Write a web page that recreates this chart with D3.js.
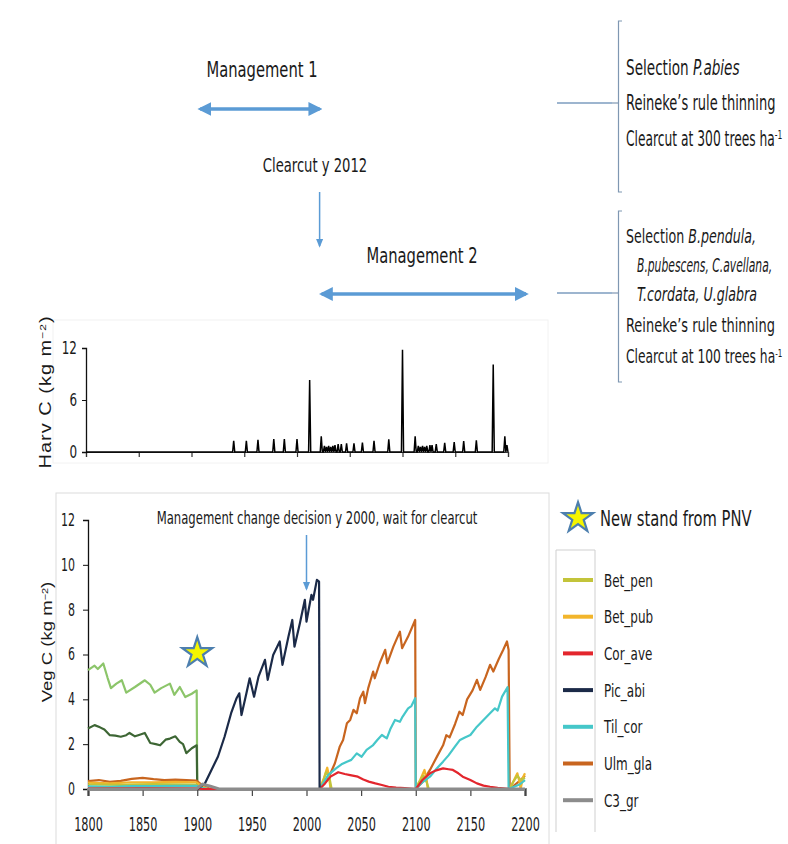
<!DOCTYPE html>
<html>
<head>
<meta charset="utf-8">
<script src="https://cdn.jsdelivr.net/npm/d3@7"></script>
<style>
  body { margin: 0; background: #fff; }
  text { font-family: "DejaVu Sans Condensed", "Liberation Sans Narrow", sans-serif; fill: #1a1a1a; }
  .plain { font-family: "Liberation Sans", Arial, sans-serif; }
</style>
</head>
<body>
<div id="vis"></div>
<script>
// valores (anio, kg C m-2)
const pnvLight = [[1800,5.3],[1806,5.5],[1809,5.35],[1814,5.6],[1818,4.95],[1821,4.5],[1826,4.7],[1831,4.85],[1835,4.3],[1843,4.55],[1852,4.85],[1857,4.65],[1861,4.3],[1867,4.5],[1875,4.7],[1879,4.2],[1884,4.55],[1889,4.1],[1895,4.25],[1899.5,4.4],[1900,0]];
const pnvDark = [[1800,2.7],[1806,2.85],[1811,2.75],[1815,2.65],[1820,2.4],[1825,2.38],[1830,2.33],[1835,2.4],[1838,2.5],[1843,2.35],[1846,2.4],[1852,2.5],[1857,2.05],[1862,2.0],[1866,1.95],[1871,2.2],[1875,2.25],[1880,2.35],[1884,2.1],[1887,2.0],[1890,1.6],[1895,1.82],[1899.5,1.95],[1900,0]];
const betPen = [[1800,0.2],[1830,0.18],[1860,0.22],[1899,0.2],[1903,0.05],[1908,0],[2012,0],[2015,0.3],[2018,0.75],[2021,0.5],[2023,0],[2100,0],[2103,0.3],[2107,0.6],[2110,0.3],[2112,0],[2186,0],[2189,0.3],[2193,0.6],[2196,0.4],[2200,0.5]];
const betPub = [[1800,0.28],[1820,0.25],[1840,0.3],[1860,0.3],[1880,0.32],[1899,0.3],[1905,0.1],[1910,0],[2012,0],[2016,0.5],[2019,0.95],[2020.5,0.6],[2022,0],[2100,0],[2104,0.4],[2108,0.85],[2110,0.4],[2111,0],[2186,0],[2190,0.4],[2193,0.7],[2195,0.3],[2196,0],[2198,0.5],[2200,0.7]];
const corAve = [[1800,0.03],[1850,0.04],[1899,0.03],[1905,0],[2012,0],[2017,0.25],[2022,0.55],[2029,0.75],[2035,0.67],[2040,0.62],[2047,0.55],[2052,0.42],[2057,0.33],[2063,0.25],[2069,0.18],[2075,0.1],[2082,0.06],[2090,0.04],[2100,0],[2106,0.4],[2113,0.7],[2118,0.82],[2125,0.92],[2130,0.88],[2134,0.85],[2139,0.7],[2143,0.55],[2150,0.4],[2156,0.25],[2162,0.15],[2168,0.1],[2175,0.05],[2180,0.03],[2186,0],[2200,0]];
const picAbi = [[1900,0],[1907,0.25],[1913,0.85],[1919,1.45],[1925,2.33],[1931,3.38],[1936,4.05],[1938.5,4.27],[1940.5,3.3],[1945,4.27],[1948,4.94],[1952,4.12],[1956,5.0],[1962,5.76],[1964.5,4.87],[1969.5,5.98],[1975.5,6.58],[1978,5.54],[1983.5,6.8],[1987,7.54],[1989,6.35],[1994,7.4],[1998.5,8.44],[2000,7.47],[2004.5,8.66],[2006,8.44],[2009.5,9.33],[2011.5,9.25],[2012,0]];
const tilCor = [[1800,0.12],[1820,0.1],[1840,0.13],[1860,0.13],[1880,0.14],[1899,0.14],[1905,0.04],[1910,0],[2012,0],[2020,0.63],[2027,0.92],[2032,1.1],[2037,1.22],[2041,1.3],[2046,1.59],[2050.5,1.44],[2055,1.75],[2061,1.96],[2065,2.2],[2069,2.41],[2073.5,2.26],[2077,2.7],[2081,3.08],[2085.5,3.0],[2088,3.23],[2093,3.6],[2096,3.7],[2099.5,4.05],[2100,0],[2106,0.3],[2113,0.55],[2119,0.9],[2125,1.22],[2130,1.5],[2136,1.9],[2140.5,2.19],[2145,2.3],[2150,2.41],[2156,2.78],[2162,3.08],[2168,3.38],[2172.5,3.6],[2175,3.5],[2179,4.12],[2184,4.54],[2185,0],[2195,0.2],[2200,0.4]];
const ulmGla = [[1800,0.35],[1810,0.4],[1820,0.32],[1830,0.36],[1840,0.45],[1850,0.5],[1860,0.44],[1870,0.4],[1880,0.42],[1890,0.4],[1899,0.38],[1905,0.15],[1912,0],[2012,0],[2020,0.48],[2026,1.15],[2030.5,1.9],[2033.5,2.19],[2037,2.93],[2040,3.08],[2043,3.53],[2046,3.38],[2049,4.05],[2052,4.34],[2053.5,3.83],[2056.5,4.5],[2061,5.24],[2062.5,4.94],[2067,5.61],[2072,6.21],[2074,5.61],[2079.5,6.35],[2085.5,7.02],[2087.5,6.28],[2093,6.8],[2099.5,7.54],[2100,0],[2106,0.3],[2113,0.85],[2120,1.5],[2125,1.95],[2128,2.4],[2131,2.3],[2136,2.9],[2140,3.45],[2143,3.3],[2147,4.0],[2152,4.4],[2156,4.87],[2159,4.42],[2164,5.0],[2168,5.54],[2171,5.24],[2176,5.8],[2180,6.2],[2183.5,6.58],[2185,6.2],[2186,0],[2191,0.2],[2196,0.4],[2200,0.6]];
const c3gr = [[1800,0],[1899,0],[1905,0.22],[1912,0.12],[1920,0],[2200,0]];

const legendNames = ["Bet_pen", "Bet_pub", "Cor_ave", "Pic_abi", "Til_cor", "Ulm_gla", "C3_gr"];
const legendColors = ["#c3c43a", "#f2b52b", "#e3262d", "#1b2a48", "#45c7c9", "#c8651f", "#8c8c8c"];

// cosechas (anio, kg C m-2), el resto de los anios es 0
const harvYears = [1940,1952,1963,1978,1988,2000,2012,2023,2026,2028,2030,2032,2034,2036,2039,2042,2047,2054,2062,2073,2087,2100,2112,2115,2117,2119,2121,2123,2126,2128,2132,2140,2149,2158,2170,2186,2197,2199];
const harvC = [1.3,1.3,1.4,1.5,1.5,1.5,8.3,1.8,0.7,0.6,0.7,0.6,0.7,0.8,0.9,0.9,1.0,1.0,1.1,1.3,1.45,11.8,1.8,0.7,0.6,0.7,0.6,0.7,0.8,0.8,0.9,1.05,1.15,1.25,1.35,10.1,1.8,0.8];

const yearTicks = [1800, 1850, 1900, 1950, 2000, 2050, 2100, 2150, 2200];
const vegTicks = [0, 2, 4, 6, 8, 10, 12];
const harvTicks = [0, 6, 12];

const WIDTH = 788;
const HEIGHT = 844;
const BLUE = "#5b9bd5";

const SVG = d3.select("#vis").append("svg")
    .attr("width", WIDTH).attr("height", HEIGHT);

const xVeg = d3.scaleLinear().domain([1800, 2200]).range([88, 525]);
const yVeg = d3.scaleLinear().domain([0, 12]).range([789, 520]);
const xHarv = d3.scaleLinear().domain([1800, 2200]).range([86, 508]);
const yHarv = d3.scaleLinear().domain([0, 12]).range([452, 348]);

// texto angosto: se comprime en x
function label(g, x, y, size, sx, anchor) {
    return g.append("text")
        .attr("transform", `translate(${x},${y}) scale(${sx},1)`)
        .attr("text-anchor", anchor || "start")
        .style("font-size", size + "px");
}

// flechas
const defs = SVG.append("defs");
defs.append("marker").attr("id", "head").attr("viewBox", "0 0 10 10")
    .attr("refX", 8).attr("refY", 5).attr("markerWidth", 4).attr("markerHeight", 4)
    .attr("orient", "auto-start-reverse")
    .append("path").attr("d", "M0,0 L10,5 L0,10 z").attr("fill", BLUE);
defs.append("marker").attr("id", "headThin").attr("viewBox", "0 0 10 10")
    .attr("refX", 8).attr("refY", 5).attr("markerWidth", 6).attr("markerHeight", 8)
    .attr("orient", "auto")
    .append("path").attr("d", "M0,1 L10,5 L0,9 z").attr("fill", BLUE);

// ---------- diagrama de manejo ----------
const diag = SVG.append("g");
label(diag, 262, 77, 21, 0.78, "middle").text("Management 1");
diag.append("line")
    .attr("x1", xVeg(1900) + 3).attr("x2", xVeg(2012)).attr("y1", 109).attr("y2", 109)
    .attr("stroke", BLUE).attr("stroke-width", 3.5)
    .attr("marker-start", "url(#head)").attr("marker-end", "url(#head)");
label(diag, 315, 172, 19, 0.77, "middle").text("Clearcut y 2012");
diag.append("line")
    .attr("x1", xVeg(2012)).attr("x2", xVeg(2012)).attr("y1", 192).attr("y2", 246)
    .attr("stroke", BLUE).attr("stroke-width", 1.5).attr("marker-end", "url(#headThin)");
label(diag, 422, 263, 21, 0.78, "middle").text("Management 2");
diag.append("line")
    .attr("x1", xVeg(2012) + 2).attr("x2", xVeg(2200) + 1).attr("y1", 294).attr("y2", 294)
    .attr("stroke", BLUE).attr("stroke-width", 3.5)
    .attr("marker-start", "url(#head)").attr("marker-end", "url(#head)");

function bracket(y0, y1, yc) {
    diag.append("path")
        .attr("d", `M622,${y0} L618.5,${y0} L618.5,${y1} L622,${y1}`)
        .attr("fill", "none").attr("stroke", "#7f97b2").attr("stroke-width", 1.2);
    diag.append("line").attr("x1", 557).attr("x2", 612).attr("y1", yc).attr("y2", yc)
        .attr("stroke", "#9db5cf").attr("stroke-width", 2);
    diag.append("line").attr("x1", 612).attr("x2", 618).attr("y1", yc).attr("y2", yc)
        .attr("stroke", "#7f97b2").attr("stroke-width", 1.2);
}
bracket(21, 192, 103);
bracket(211, 382, 293);

function noteLine(x, y, size, sx, parts) {
    const t = label(diag, x, y, size, sx);
    parts.forEach(p => {
        const s = t.append("tspan").text(p.t);
        if (p.i) s.style("font-style", "italic");
        if (p.sup) s.attr("baseline-shift", "super").style("font-size", Math.round(size * 0.6) + "px");
    });
}
noteLine(626, 75, 21, 0.72, [{t: "Selection "}, {t: "P.abies", i: true}]);
noteLine(626, 110, 21, 0.69, [{t: "Reineke\u2019s rule thinning"}]);
noteLine(626, 146, 21, 0.65, [{t: "Clearcut at 300 trees ha"}, {t: "-1", sup: true}]);
noteLine(626, 243, 19, 0.74, [{t: "Selection "}, {t: "B.pendula,", i: true}]);
noteLine(637, 272, 19, 0.63, [{t: "B.pubescens, C.avellana,", i: true}]);
noteLine(637, 301, 19, 0.74, [{t: "T.cordata, U.glabra", i: true}]);
noteLine(626, 332, 19, 0.76, [{t: "Reineke\u2019s rule thinning"}]);
noteLine(626, 363, 19, 0.72, [{t: "Clearcut at 100 trees ha"}, {t: "-1", sup: true}]);

// ---------- cosecha ----------
const harv = SVG.append("g");
harv.append("rect").attr("x", 53).attr("y", 320).attr("width", 495).attr("height", 143)
    .attr("fill", "none").attr("stroke", "#f2f2f2");

const harvSeries = d3.range(1800, 2201).map(yr => {
    const i = harvYears.indexOf(yr);
    return [yr, i >= 0 ? harvC[i] : 0];
});

harv.append("g").attr("transform", `translate(0,${yHarv(0)})`)
    .call(d3.axisBottom(xHarv).tickValues(yearTicks).tickSize(5).tickFormat(""))
    .call(g => g.selectAll("line, path").attr("stroke", "#333").attr("stroke-width", 1.2));
harv.append("g").attr("transform", `translate(${xHarv(1800)},0)`)
    .call(d3.axisLeft(yHarv).tickValues(harvTicks).tickSize(4).tickPadding(0))
    .call(g => g.select(".domain").attr("stroke", "#111").attr("stroke-width", 1.3))
    .call(g => g.selectAll(".tick line").attr("stroke", "#111"))
    .call(g => g.selectAll("text").attr("x", null).attr("transform", "translate(-9,0) scale(0.74,1)")
        .style("font-size", "18px").attr("fill", "#1a1a1a")
        .style("font-family", "'DejaVu Sans Condensed', sans-serif"));

harv.append("path").datum(harvSeries)
    .attr("fill", "none").attr("stroke", "#000").attr("stroke-width", 1.5)
    .attr("d", d3.line().x(d => xHarv(d[0])).y(d => yHarv(d[1])));

const harvLab = harv.append("text").attr("class", "plain")
    .attr("transform", `translate(51,392) scale(0.8,1) rotate(-90)`).attr("text-anchor", "middle")
    .style("font-size", "20px").attr("fill", "#333").attr("letter-spacing", "1");
harvLab.append("tspan").text("Harv C (kg m");
harvLab.append("tspan").attr("baseline-shift", "super").style("font-size", "12px").text("\u22122");
harvLab.append("tspan").text(")");

// ---------- carbono en vegetacion ----------
const veg = SVG.append("g");
veg.append("rect").attr("x", 56).attr("y", 493).attr("width", 493).attr("height", 352)
    .attr("fill", "none").attr("stroke", "#dcdcdc");

veg.append("g").attr("transform", `translate(${xVeg(1800)},0)`)
    .call(d3.axisLeft(yVeg).tickValues(vegTicks).tickSize(5).tickPadding(0))
    .call(g => g.select(".domain").attr("stroke", "#111").attr("stroke-width", 1.3))
    .call(g => g.selectAll(".tick line").attr("stroke", "#111"))
    .call(g => g.selectAll("text").attr("x", null).attr("transform", "translate(-13,0) scale(0.72,1)")
        .style("font-size", "17px").attr("fill", "#1a1a1a")
        .style("font-family", "'DejaVu Sans Condensed', sans-serif"));

veg.append("g").attr("transform", `translate(0,${yVeg(0)})`)
    .call(d3.axisBottom(xVeg).tickValues(yearTicks).tickSize(7).tickPadding(0).tickFormat(d3.format("d")))
    .call(g => g.select(".domain").attr("stroke", "#8c8c8c").attr("stroke-width", 3))
    .call(g => g.selectAll(".tick line").attr("stroke", "#444").attr("stroke-width", 1.2))
    .call(g => g.selectAll("text").attr("y", null).attr("transform", "translate(0,29) scale(0.66,1)")
        .style("font-size", "19px").attr("fill", "#1a1a1a")
        .style("font-family", "'DejaVu Sans Condensed', sans-serif"));

const vegLine = d3.line().x(d => xVeg(d[0])).y(d => yVeg(d[1]));
const series = [
    {d: pnvLight, c: "#8cc56a"},
    {d: pnvDark, c: "#3d6634"},
    {d: ulmGla, c: legendColors[5]},
    {d: betPub, c: legendColors[1]},
    {d: betPen, c: legendColors[0]},
    {d: tilCor, c: legendColors[4]},
    {d: corAve, c: legendColors[2]},
    {d: picAbi, c: legendColors[3]},
    {d: c3gr, c: legendColors[6]}
];
veg.selectAll(".serie").data(series).join("path")
    .attr("class", "serie")
    .attr("fill", "none")
    .attr("stroke", d => d.c)
    .attr("stroke-width", (d, i) => i === series.length - 1 ? 3 : 2.2)
    .attr("stroke-linejoin", "round")
    .attr("d", d => vegLine(d.d));

const vegLab = veg.append("text").attr("class", "plain")
    .attr("transform", `translate(52,642) scale(0.8,1) rotate(-90)`).attr("text-anchor", "middle")
    .style("font-size", "18.5px").attr("fill", "#333");
vegLab.append("tspan").text("Veg C (kg m");
vegLab.append("tspan").attr("baseline-shift", "super").style("font-size", "11px").text("\u22122");
vegLab.append("tspan").text(")");

// estrella y anotacion
const star = d3.symbol().type(d3.symbolStar).size(280);
veg.append("path").attr("d", star)
    .attr("transform", `translate(${xVeg(1900)},${yVeg(6.07)})`)
    .attr("fill", "#f5f500").attr("stroke", "#4d7fae").attr("stroke-width", 2.2);

label(veg, 317, 524, 17.5, 0.74, "middle").text("Management change decision y 2000, wait for clearcut");
veg.append("line")
    .attr("x1", xVeg(2000)).attr("x2", xVeg(2000)).attr("y1", 535).attr("y2", 589)
    .attr("stroke", BLUE).attr("stroke-width", 1.5).attr("marker-end", "url(#headThin)");

// leyenda
const leg = SVG.append("g");
leg.append("path").attr("d", star).attr("transform", "translate(578,518)")
    .attr("fill", "#f5f500").attr("stroke", "#4d7fae").attr("stroke-width", 2.2);
label(leg, 600, 526, 21, 0.78).text("New stand from PNV");
leg.append("path").attr("d", "M556,832 L556,550 L595,550 L595,832")
    .attr("fill", "none").attr("stroke", "#cfcfcf");

const legItem = leg.selectAll(".item").data(legendNames).join("g")
    .attr("class", "item")
    .attr("transform", (d, i) => `translate(0,${580 + i * 36.7})`);
legItem.append("line").attr("x1", 563).attr("x2", 593).attr("y1", 0).attr("y2", 0)
    .attr("stroke", (d, i) => legendColors[i]).attr("stroke-width", 4);
legItem.append("text").attr("transform", "translate(604,6.5) scale(0.74,1)")
    .style("font-size", "18px").text(d => d);
</script>
</body>
</html>
